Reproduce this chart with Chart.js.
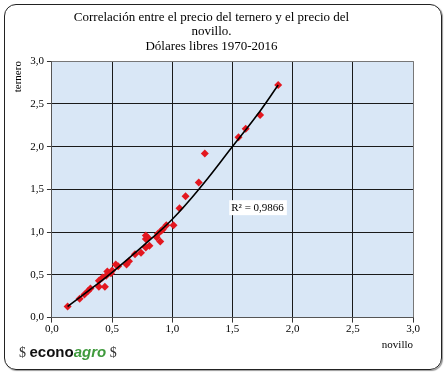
<!DOCTYPE html>
<html>
<head>
<meta charset="utf-8">
<script src="https://cdn.jsdelivr.net/npm/chart.js@4"></script>
<style>
  html, body { margin: 0; padding: 0; background: #fff; }
  .marco {
    position: absolute; left: 4px; top: 4px; width: 436px; height: 364px;
    border: 1px solid #222; border-radius: 12px; box-shadow: 1px 1px 1px #999;
  }
  .caja { position: absolute; left: 0; top: 0; width: 446px; height: 374px; }
  .logo { position: absolute; left: 19px; top: 343px; font-size: 15px; white-space: nowrap; }
  .logo .s { font-family: "Liberation Serif", serif; font-size: 14px; color: #333; }
  .logo .e { font-family: "Liberation Sans", Arial, sans-serif; font-weight: bold; color: #111; }
  .logo .a { font-family: "Liberation Sans", Arial, sans-serif; font-weight: bold; font-style: italic; color: #3f9a3c; }
</style>
</head>
<body>
<div class="marco"></div>
<div class="caja"><canvas id="grafico"></canvas></div>
<div class="logo"><span class="s">$ </span><span class="e">econo</span><span class="a">agro</span><span class="s"> $</span></div>
<script>
// datos (dolares)
const novillo = [0.13, 0.23, 0.27, 0.30, 0.32, 0.39, 0.39, 0.42, 0.44, 0.45, 0.46, 0.49, 0.50, 0.53, 0.55,
  0.62, 0.64, 0.69, 0.74, 0.78, 0.78, 0.78, 0.80, 0.81, 0.87, 0.88, 0.90, 0.91, 0.92, 0.95, 1.01,
  1.06, 1.11, 1.22, 1.27, 1.55, 1.61, 1.73, 1.88];
const ternero = [0.13, 0.22, 0.27, 0.31, 0.34, 0.36, 0.43, 0.47, 0.36, 0.49, 0.54, 0.52, 0.55, 0.62, 0.60,
  0.62, 0.66, 0.74, 0.76, 0.82, 0.92, 0.96, 0.93, 0.84, 0.94, 0.98, 0.89, 1.02, 1.03, 1.08, 1.08,
  1.28, 1.42, 1.58, 1.92, 2.11, 2.21, 2.37, 2.72];
// linea de tendencia
const tendX = [0.13, 0.30, 0.50, 0.75, 1.00, 1.25, 1.50, 1.70, 1.88];
const tendY = [0.13, 0.31, 0.53, 0.83, 1.15, 1.55, 2.00, 2.36, 2.72];
const r2 = 'R² = 0,9866';

const puntos = novillo.map((v, i) => ({ x: v, y: ternero[i] }));
const tendencia = tendX.map((v, i) => ({ x: v, y: tendY[i] }));

const serif = "'Liberation Serif', 'Times New Roman', serif";
const coma = v => v.toFixed(1).replace('.', ',');

const fondo = {
  id: 'fondo',
  beforeDraw(chart) {
    const a = chart.chartArea, ctx = chart.ctx;
    ctx.save();
    ctx.fillStyle = '#d9e7f6';
    ctx.fillRect(a.left, a.top, a.right - a.left, a.bottom - a.top);
    ctx.restore();
  }
};

const etiquetaR2 = {
  id: 'etiquetaR2',
  afterDatasetsDraw(chart) {
    const ctx = chart.ctx;
    const x = chart.scales.x.getPixelForValue(1.49);
    const y = chart.scales.y.getPixelForValue(1.28);
    ctx.save();
    ctx.font = '11px ' + serif;
    const w = ctx.measureText(r2).width;
    ctx.fillStyle = '#fff';
    ctx.fillRect(x - 2, y - 8, w + 5, 15);
    ctx.fillStyle = '#000';
    ctx.textBaseline = 'middle';
    ctx.fillText(r2, x, y);
    ctx.restore();
  }
};

const ejeGrid = {
  color: ctx => ctx.tick && ctx.tick.value === 3 ? '#777' : '#1a1a1a',
  lineWidth: 1,
  tickLength: 5,
  tickColor: '#333'
};

new Chart(document.getElementById('grafico'), {
  type: 'scatter',
  data: {
    datasets: [{
      label: 'ternero',
      data: puntos,
      pointStyle: 'rectRot',
      pointRadius: 4,
      pointBackgroundColor: '#e3171f',
      pointBorderWidth: 0,
      order: 2
    }, {
      label: 'tendencia',
      data: tendencia,
      showLine: true,
      borderColor: '#000',
      borderWidth: 1.6,
      pointRadius: 0,
      tension: 0.4,
      order: 1
    }]
  },
  options: {
    responsive: true,
    maintainAspectRatio: false,
    animation: false,
    layout: { padding: { left: 10, right: 33, top: 7, bottom: 18 } },
    plugins: {
      legend: { display: false },
      tooltip: { enabled: false },
      title: {
        display: true,
        text: ['Correlación entre el precio del ternero y el precio del', 'novillo.', 'Dólares libres 1970-2016'],
        color: '#000',
        font: { family: serif, size: 13, weight: 'normal', lineHeight: 1.08 },
        padding: { top: 4, bottom: 8 }
      }
    },
    scales: {
      x: {
        min: 0, max: 3,
        ticks: { stepSize: 0.5, callback: coma, color: '#000', font: { family: serif, size: 11 }, padding: 0 },
        grid: ejeGrid,
        border: { color: '#555', width: 1 },
        title: { display: true, text: 'novillo', align: 'end', color: '#000', font: { family: serif, size: 11 }, padding: { top: 3 } }
      },
      y: {
        min: 0, max: 3,
        ticks: { stepSize: 0.5, callback: coma, color: '#000', font: { family: serif, size: 11 }, padding: 3 },
        grid: ejeGrid,
        border: { color: '#555', width: 1 },
        title: { display: true, text: 'ternero', align: 'end', color: '#000', font: { family: serif, size: 11 }, padding: 2 }
      }
    }
  },
  plugins: [fondo, etiquetaR2]
});
</script>
</body>
</html>
